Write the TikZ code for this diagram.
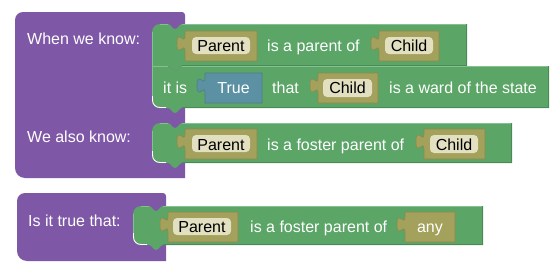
\documentclass[tikz,border=0pt]{standalone}
\usepackage{fontspec}
\setmainfont{Liberation Sans}
\definecolor{procpurple}{HTML}{7E58A6}
\definecolor{logicgreen}{HTML}{5BA567}
\definecolor{logiclight}{HTML}{84C190}
\definecolor{logicdark}{HTML}{4A8A56}
\definecolor{varolive}{HTML}{A3A15B}
\definecolor{varoliveedge}{HTML}{8C8A4C}
\definecolor{fieldbeige}{HTML}{E2E0C0}
\definecolor{boolteal}{HTML}{5B91A3}
\definecolor{booltealedge}{HTML}{4C7D8E}

\tikzset{
  blocktext/.style={inner sep=0pt, font=\fontsize{16}{19}\selectfont, text=white},
  lbl/.style={blocktext, anchor=base west},
  cval/.style={blocktext, anchor=base},
  fieldtext/.style={blocktext, anchor=base, text=black},
}

% purple container block: L T R B
\newcommand\hatblock[4]{%
  \fill[procpurple] (#1,#2+8) .. controls (#1,#2+3.6) and (#1+3.6,#2) .. (#1+8,#2)
    -- (#3-3,#2) .. controls (#3-1.3,#2) and (#3,#2+1.3) .. (#3,#2+3)
    -- (#3,#4) -- (#1+10,#4) .. controls (#1+4.5,#4) and (#1,#4-4.5) .. (#1,#4-10) -- cycle;}

% statement block: L T R B, top-left radius, bottom-left radius
\newcommand\stmtblock[6]{%
  \fill[logicgreen] (#1,#2+#5) .. controls (#1,#2+0.45*#5) and (#1+0.45*#5,#2) .. (#1+#5,#2)
    -- (#1+16,#2) .. controls (#1+19,#2) and (#1+20,#2+5) .. (#1+23,#2+5)
    .. controls (#1+26,#2+5) and (#1+27,#2) .. (#1+30,#2)
    -- (#3,#2) -- (#3,#4) -- (#1+30,#4)
    .. controls (#1+27,#4) and (#1+26,#4+5) .. (#1+23,#4+5)
    .. controls (#1+20,#4+5) and (#1+19,#4) .. (#1+16,#4)
    -- (#1+#6,#4) .. controls (#1+0.45*#6,#4) and (#1,#4-0.45*#6) .. (#1,#4-#6) -- cycle;
  \draw[logiclight, line width=0.8pt] (#1+0.4,#4-#6) -- (#1+0.4,#2+#5+0.4);
  \draw[logiclight, line width=0.8pt] (#1+30,#2+0.4) -- (#3-0.4,#2+0.4);
  \draw[logiclight, line width=0.8pt] (#1+#5,#2+0.4) -- (#1+16,#2+0.4);
  \draw[logicdark, line width=0.8pt] (#3-0.4,#2) -- (#3-0.4,#4-0.4) -- (#1+30,#4-0.4);}

% light seam where one statement block sits on the next: L Y R
\newcommand\seam[3]{%
  \draw[logiclight, line width=0.8pt] (#1,#2+0.4) -- (#1+16,#2+0.4);
  \draw[logiclight, line width=0.8pt] (#1+30,#2+0.4) -- (#3-0.8,#2+0.4);}

% white rim round a rounded bottom-left corner
\newcommand\cornerrim[2]{%
  \draw[white, line width=0.9pt] (#1+0.5,#2-12) -- (#1+0.5,#2-8)
    .. controls (#1+0.5,#2-3.6) and (#1+3.6,#2-0.5) .. (#1+8,#2-0.5) -- (#1+14,#2-0.5);}

% value block with its output tab: x1 y1 x2 y2 fill edge
\newcommand\valblock[6]{%
  \filldraw[fill=#5, draw=#6, line width=0.6pt] (#1,#2) -- (#3,#2) -- (#3,#4) -- (#1,#4)
    -- (#1,#2+20) .. controls (#1,#2+10) and (#1-8,#2+28) .. (#1-8,#2+12.5)
    .. controls (#1-8,#2-3) and (#1,#2+15) .. (#1,#2+5) -- cycle;}

\newcommand\varfield[4]{%
  \fill[fieldbeige, rounded corners=4pt] (#1,#2) rectangle (#3,#4);}

\begin{document}
\begin{tikzpicture}[x=1pt, y=-1pt]
  \useasboundingbox (0,0) rectangle (558,279);
  \fill[white] (0,0) rectangle (558,279);

  % ---- first rule: conditions and known fact ----
  \hatblock{15}{12}{185}{178}
  \node[lbl] (whenknow) at (27,44) {When we know:};
  \node[lbl] (alsoknow) at (27,142) {We also know:};

  % second condition (drawn first so the upper block's tab sits over its notch)
  \stmtblock{152}{66}{549}{108}{0}{8}
  \cornerrim{152}{108}
  \node[lbl] (itis) at (163,93.5) {it is};
  \valblock{205}{73}{262}{103}{boolteal}{booltealedge}
  \node[cval] (true) at (233.5,93.5) {True};
  \node[lbl] (that) at (272,93.5) {that};
  \valblock{318}{73}{378}{103}{varolive}{varoliveedge}
  \varfield{323}{79}{372}{97}
  \node[fieldtext] (childb) at (347.5,93.5) {Child};
  \node[lbl] (ward) at (389,93.5) {is a ward of the state};

  % first condition
  \stmtblock{152}{24}{467}{66}{8}{0}
  \seam{152}{66}{467}
  \valblock{185}{31}{257}{61}{varolive}{varoliveedge}
  \varfield{192}{37}{250}{54}
  \node[fieldtext] (parenta) at (221,51.5) {Parent};
  \node[lbl] (parentof) at (267,51.5) {is a parent of};
  \valblock{379}{31}{439}{61}{varolive}{varoliveedge}
  \varfield{385}{37}{433}{54}
  \node[fieldtext] (childa) at (409,51.5) {Child};

  % known fact
  \stmtblock{152}{123}{512}{163}{8}{8}
  \cornerrim{152}{163}
  \valblock{185}{129}{257}{159}{varolive}{varoliveedge}
  \varfield{192}{135}{250}{152}
  \node[fieldtext] (parentc) at (221,150.5) {Parent};
  \node[lbl] (fosterof) at (267,150.5) {is a foster parent of};
  \valblock{424}{129}{485}{159}{varolive}{varoliveedge}
  \varfield{430}{135}{478}{153}
  \node[fieldtext] (childc) at (454,150.5) {Child};

  % ---- query ----
  \hatblock{17}{193}{166}{261}
  \node[lbl] (istrue) at (28,226) {Is it true that:};
  \stmtblock{133}{206}{483}{245}{8}{8}
  \cornerrim{133}{245}
  \valblock{168}{212}{238}{242}{varolive}{varoliveedge}
  \varfield{173}{218}{231}{235}
  \node[fieldtext] (parentq) at (202,232.5) {Parent};
  \node[lbl] (fosterq) at (250,232.5) {is a foster parent of};
  \valblock{405}{212}{455}{242}{varolive}{varoliveedge}
  \node[cval] (any) at (430,232.5) {any};
\end{tikzpicture}
\end{document}
